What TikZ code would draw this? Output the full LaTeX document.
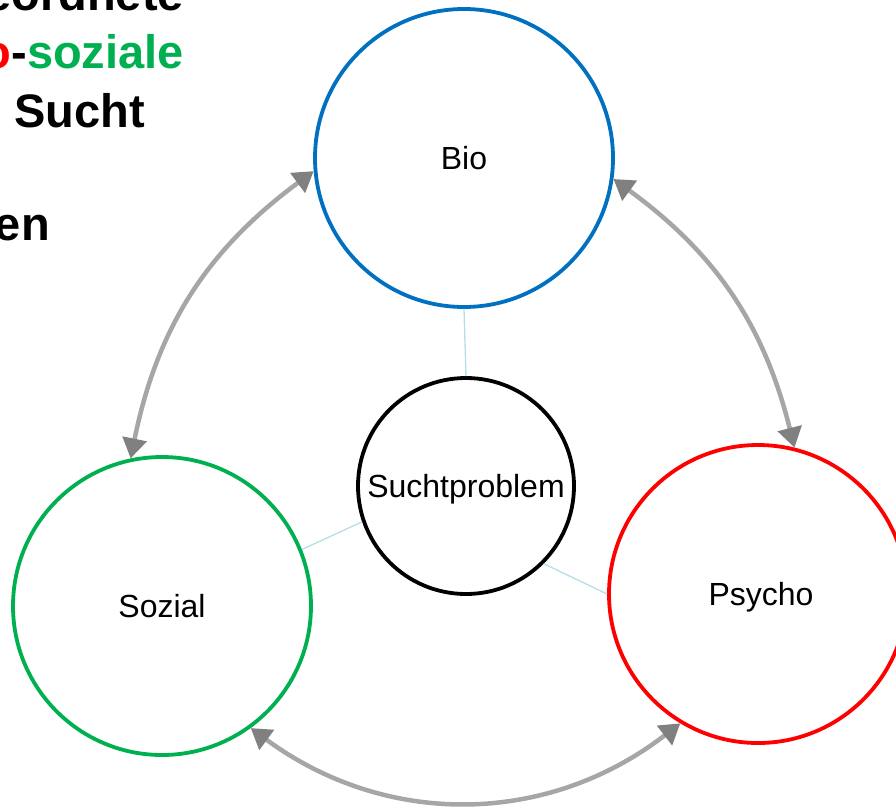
\documentclass[tikz,border=0pt]{standalone}
\usepackage{fontspec}
\setmainfont{Liberation Sans}
\usetikzlibrary{arrows.meta}
\definecolor{bioblue}{HTML}{0070C0}
\definecolor{psyred}{HTML}{FF0000}
\definecolor{sozgreen}{HTML}{00B050}
\definecolor{arrowgray}{HTML}{A6A6A6}
\definecolor{tipgray}{HTML}{808080}
\definecolor{linkblue}{HTML}{B7DDE8}
\begin{document}
\begin{tikzpicture}[x=1pt,y=-1pt,
  ring/.style={circle,draw,line width=3.8pt,inner sep=0pt,
    font=\fontsize{32}{36}\selectfont,text height=23pt,text depth=0pt},
  bigring/.style={ring,minimum size=298pt},
  smallring/.style={ring,minimum size=216pt},
  relation/.style={draw=arrowgray,line width=4.5pt,
    {Triangle[length=20pt,width=24pt,color=tipgray]}-{Triangle[length=20pt,width=24pt,color=tipgray]}},
  link/.style={draw=linkblue,line width=1.3pt},
  titleline/.style={anchor=base east,inner sep=0pt,
    font=\fontsize{47}{56}\selectfont\bfseries}
]
\useasboundingbox (0,0) rectangle (896,806);
\begin{scope}
\clip (0,0) rectangle (896,806);
\node[titleline] (t1) at (184,10) {übergeordnete};
\node[titleline] (t2) at (184,68) {{\color{bioblue}Bio}-{\color{psyred}psycho}-{\color{sozgreen}soziale}};
\node[titleline] (t3) at (145,127) {der Sucht};
\node[titleline] (t4) at (50,240) {Bedingungen};

\node[bigring,draw=bioblue] (bio) at (464,158) {Bio};
\node[bigring,draw=sozgreen] (sozial) at (162,606) {Sozial};
\node[bigring,draw=psyred] (psycho) at (758,594) {\hspace{6pt}Psycho};
\node[smallring,draw=black] (sp) at (466,486) {Suchtproblem};

\draw[link] (bio.south) -- (sp.north);
\draw[link] (sozial.22) -- (sp.199);
\draw[link] (sp.315) -- (psycho.west);

\draw[relation] (bio.185) to[bend right=21] (sozial.102);
\draw[relation] (bio.352) to[bend left=20] (psycho.76);
\draw[relation] (sozial.306) to[bend right=37] (psycho.239);
\end{scope}
\end{tikzpicture}
\end{document}
